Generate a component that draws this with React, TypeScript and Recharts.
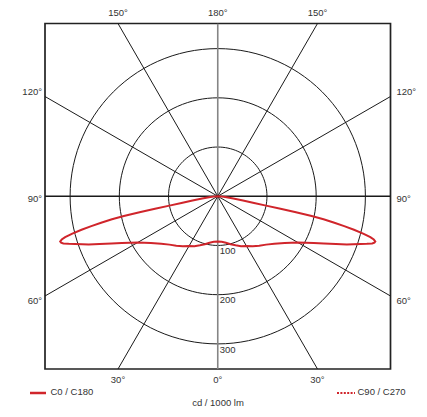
import React from 'react';
import { ScatterChart, Scatter, XAxis, YAxis, ReferenceArea, ReferenceDot, Legend } from 'recharts';

// Luminous intensity (cd / 1000 lm) of the C0 / C180 plane, by angle from nadir (deg)
const gammaDeg = [0, 5, 10, 15, 20, 25, 30, 35, 40, 45, 50, 55, 60, 64, 66, 68, 69.5, 70.5, 71.5, 72.3, 73, 73.5, 74, 74.5, 75, 75.6, 76.2, 76.7, 77.2, 77.7, 78.1, 78.4, 78.7, 79, 79.6, 80.5, 82, 84, 87, 90];
const intensityC0C180 = [92, 93, 96, 101, 106, 112, 117, 124, 131, 139, 150, 166, 188, 217, 236, 259, 280, 292, 306, 318, 328, 332, 333, 329, 321, 305, 285, 264, 243, 220, 195, 160, 130, 100, 75, 52, 32, 15, 5, 0];

const ringValues = [100, 200, 300];
const gridLineAngles = [0, 30, 60, 90, 120, 150];
const topTickLabels = ['150°', '180°', '150°'];
const bottomTickLabels = ['30°', '0°', '30°'];
const sideTickLabels = ['120°', '90°', '60°'];
const seriesNames = ['C0 / C180', 'C90 / C270'];
const unitLabel = 'cd / 1000 lm';

const FRAME = 351;
const RED = '#d0252b';
const TEXT = '#333';
const FONT = "'Liberation Sans', Arial, sans-serif";
const FS = 9.5;
const toRad = (d: number) => (d * Math.PI) / 180;

const polar = (g: number, I: number, side: number) => ({
  x: side * I * Math.sin(toRad(g)),
  y: -I * Math.cos(toRad(g)),
});

const rightHalf = gammaDeg.map((g, i) => polar(g, intensityC0C180[i], 1)).reverse();
const leftHalf = gammaDeg.map((g, i) => polar(g, intensityC0C180[i], -1));
const curveC0 = [...rightHalf, ...leftHalf.slice(1)];

const rings = ringValues.map((v) =>
  Array.from({ length: 121 }, (_, j) => ({ x: v * Math.cos(toRad(j * 3)), y: v * Math.sin(toRad(j * 3)) }))
);

const radialLines = gridLineAngles.map((a) => {
  const s = Math.sin(toRad(a));
  const c = Math.cos(toRad(a));
  const t = FRAME / Math.max(Math.abs(s), Math.abs(c));
  return { angle: a, pts: [{ x: -t * s, y: t * c }, { x: t * s, y: -t * c }] };
});

const edge = FRAME * Math.tan(toRad(30));
const hTicks = [-edge, 0, edge];
const vTicks = [edge, 0, -edge];

const nearest = (ticks: number[], v: number) => {
  let best = 0;
  ticks.forEach((t, i) => {
    if (Math.abs(t - v) < Math.abs(ticks[best] - v)) best = i;
  });
  return best;
};

const sideOffsets: Record<string, number> = { '120°': -5, '90°': 2.5, '60°': 4.8 };

const SideTick = (props: any) => {
  const { x, y, payload, textAnchor } = props;
  const label = sideTickLabels[nearest(vTicks, payload.value)];
  return (
    <text x={x} y={y} dy={(sideOffsets[label] || 0) + 3.4} textAnchor={textAnchor} fontSize={FS} fill={TEXT} fontFamily={FONT}>
      {label}
    </text>
  );
};

const NoShape = () => null;

const ringLabel = (text: string) => (p: any) => {
  const vb = p.viewBox || { x: 0, y: 0 };
  return (
    <text x={vb.x + 2} y={vb.y + 8.7} fontSize={FS} fill={TEXT} fontFamily={FONT}>
      {text}
    </text>
  );
};

const renderLegend = () => (
  <div style={{ position: 'relative', width: 427, height: 37, fontFamily: FONT, fontSize: FS, color: TEXT }}>
    <svg style={{ position: 'absolute', left: 30, top: 10.7 }} width={16} height={4}>
      <line x1={0} y1={2} x2={16} y2={2} stroke={RED} strokeWidth={2.5} />
    </svg>
    <span style={{ position: 'absolute', left: 50.5, top: 6, lineHeight: '12px', whiteSpace: 'nowrap' }}>{seriesNames[0]}</span>
    <svg style={{ position: 'absolute', left: 337, top: 10.7 }} width={18} height={4}>
      <line x1={0} y1={2} x2={18} y2={2} stroke={RED} strokeWidth={2} strokeDasharray="2 1.4" />
    </svg>
    <span style={{ position: 'absolute', left: 357.5, top: 6, lineHeight: '12px', whiteSpace: 'nowrap' }}>{seriesNames[1]}</span>
    <span
      style={{ position: 'absolute', left: 218, top: 16.7, lineHeight: '12px', whiteSpace: 'nowrap', transform: 'translateX(-50%)' }}
    >
      {unitLabel}
    </span>
  </div>
);

export default function App() {
  return (
    <div style={{ position: 'absolute', left: 0, top: 0, width: 427, height: 417, background: '#fff' }}>
      <ScatterChart width={427} height={417} margin={{ top: 3.5, right: 6.5, bottom: 28, left: 15 }}>
        <XAxis
          xAxisId="b"
          orientation="bottom"
          type="number"
          dataKey="x"
          domain={[-FRAME, FRAME]}
          ticks={hTicks}
          interval={0}
          allowDataOverflow
          axisLine={false}
          tickLine={false}
          tickSize={5}
          tickMargin={2}
          height={20}
          tick={{ fontSize: FS, fill: TEXT, fontFamily: FONT }}
          tickFormatter={(v: number) => bottomTickLabels[nearest(hTicks, v)]}
        />
        <XAxis
          xAxisId="t"
          orientation="top"
          type="number"
          dataKey="x"
          domain={[-FRAME, FRAME]}
          ticks={hTicks}
          interval={0}
          allowDataOverflow
          axisLine={false}
          tickLine={false}
          tickSize={6}
          tickMargin={2}
          height={20}
          tick={{ fontSize: FS, fill: TEXT, fontFamily: FONT }}
          tickFormatter={(v: number) => topTickLabels[nearest(hTicks, v)]}
        />
        <YAxis
          yAxisId="l"
          orientation="left"
          type="number"
          dataKey="y"
          domain={[-FRAME, FRAME]}
          ticks={vTicks}
          interval={0}
          allowDataOverflow
          axisLine={false}
          tickLine={false}
          tickSize={3}
          tickMargin={0}
          width={30}
          tick={<SideTick />}
        />
        <YAxis
          yAxisId="r"
          orientation="right"
          type="number"
          dataKey="y"
          domain={[-FRAME, FRAME]}
          ticks={vTicks}
          interval={0}
          allowDataOverflow
          axisLine={false}
          tickLine={false}
          tickSize={3}
          tickMargin={3}
          width={30}
          tick={<SideTick />}
        />
        {rings.map((r, i) => (
          <Scatter
            key={'ring' + i}
            xAxisId="b"
            yAxisId="l"
            data={r}
            line={{ stroke: '#1a1a1a', strokeWidth: 1 }}
            shape={NoShape}
            legendType="none"
            isAnimationActive={false}
          />
        ))}
        {radialLines.map((l) => (
          <Scatter
            key={'rad' + l.angle}
            xAxisId="b"
            yAxisId="l"
            data={l.pts}
            line={l.angle === 0 ? { stroke: '#858585', strokeWidth: 1.6 } : { stroke: '#1a1a1a', strokeWidth: l.angle === 90 ? 1.3 : 1 }}
            shape={NoShape}
            legendType="none"
            isAnimationActive={false}
          />
        ))}
        <ReferenceArea
          xAxisId="b"
          yAxisId="l"
          x1={-FRAME}
          x2={FRAME}
          y1={-FRAME}
          y2={FRAME}
          fill="none"
          fillOpacity={0}
          stroke="#222"
          strokeWidth={1.7}
          ifOverflow="visible"
        />
        {ringValues.map((v) => (
          <ReferenceDot
            key={'rl' + v}
            xAxisId="b"
            yAxisId="l"
            x={0}
            y={-v}
            r={0}
            fill="none"
            stroke="none"
            ifOverflow="visible"
            label={ringLabel(String(v))}
          />
        ))}
        <Scatter
          name={seriesNames[0]}
          xAxisId="b"
          yAxisId="l"
          data={curveC0}
          line={{ stroke: RED, strokeWidth: 2 }}
          shape={NoShape}
          isAnimationActive={false}
        />
        <Legend
          layout="horizontal"
          verticalAlign="middle"
          align="center"
          wrapperStyle={{ top: 380, left: 0, width: 427, height: 37 }}
          content={renderLegend}
        />
      </ScatterChart>
    </div>
  );
}
